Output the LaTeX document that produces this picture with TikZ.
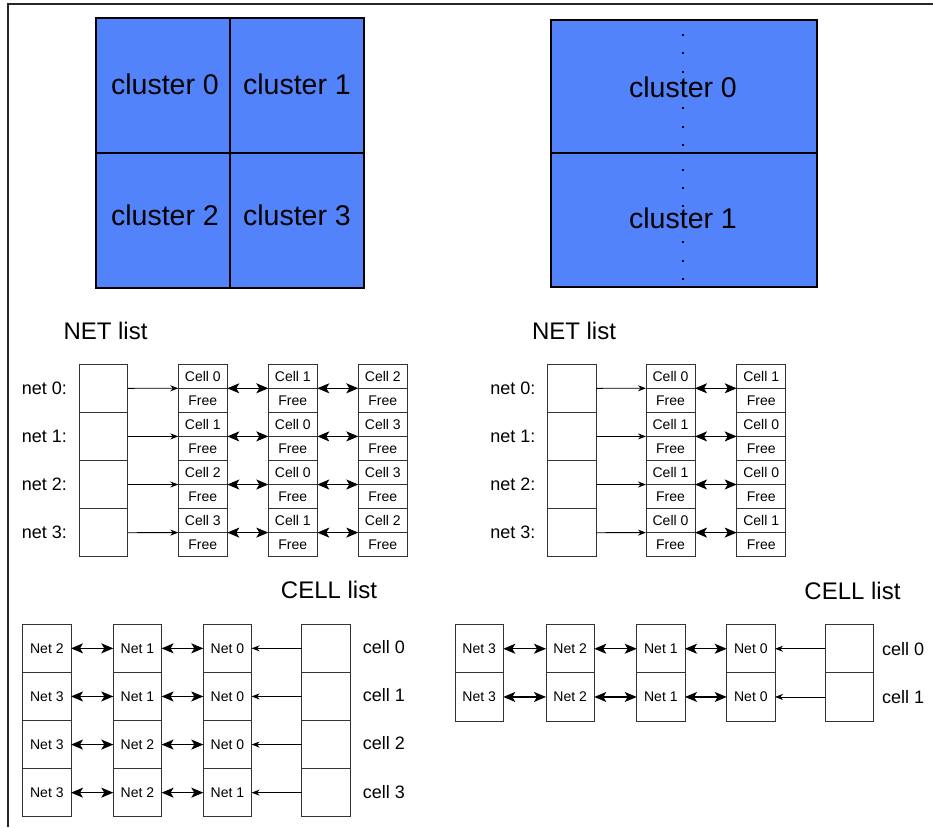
\documentclass[tikz,border=0pt]{standalone}
\usepackage{fontspec}
\setmainfont{Liberation Sans}
\usetikzlibrary{arrows.meta,calc}
\definecolor{clusterblue}{RGB}{82,131,250}
\begin{document}
\begin{tikzpicture}[x=1pt,y=-1pt,
  frame/.style={draw=black!85, line width=2pt},
  quad/.style={draw=black, line width=2pt, fill=clusterblue, inner sep=0pt, outer sep=0pt,
               anchor=north west},
  qlabel/.style={font=\fontsize{28.5}{30}\selectfont, inner sep=0pt},
  title/.style={font=\fontsize{24}{26}\selectfont, inner sep=0pt},
  rowlabel/.style={font=\fontsize{18}{20}\selectfont, inner sep=0pt},
  headbox/.style={draw=black!80, line width=1pt, minimum width=48.5pt, minimum height=48.1pt,
                  inner sep=0pt, outer sep=0pt, anchor=north west},
  halfbox/.style={draw=black!80, line width=1pt, minimum width=49pt, minimum height=24pt,
                  inner sep=0pt, outer sep=0pt, font=\fontsize{14}{16}\selectfont},
  netbox/.style={draw=black!80, line width=1pt, minimum width=48.3pt, minimum height=48.1pt,
                 inner sep=0pt, outer sep=0pt, anchor=north west, font=\fontsize{14}{16}\selectfont},
  link/.style={line width=0.8pt, -{Stealth[length=8pt,width=6pt]}},
  dlink/.style={line width=1.1pt, {Stealth[length=12pt,width=10pt,inset=3pt]}-{Stealth[length=12pt,width=10pt,inset=3pt]}},
]
\useasboundingbox (0,0) rectangle (933,827);
\fill[white] (0,0) rectangle (933,827);

% page frame (top and left rules)
\draw[frame] (8,827) -- (8,4) -- (933,4);

% ---------- four-way clustering ----------
\node[quad, minimum width=134pt, minimum height=135pt] (q0) at (96,18) {};
\node[quad, minimum width=134pt, minimum height=135pt] (q1) at (230,18) {};
\node[quad, minimum width=134pt, minimum height=135pt] (q2) at (96,153) {};
\node[quad, minimum width=134pt, minimum height=135pt] (q3) at (230,153) {};
\node[qlabel] (q0t) at (165,84) {cluster 0};
\node[qlabel] (q1t) at (297,84) {cluster 1};
\node[qlabel] (q2t) at (165,215) {cluster 2};
\node[qlabel] (q3t) at (297,215) {cluster 3};

% ---------- two-way clustering ----------
\node[quad, minimum width=266pt, minimum height=133pt] (r0) at (551,20) {};
\node[quad, minimum width=266pt, minimum height=134pt] (r1) at (551,153) {};
\node[qlabel] (r0t) at (683,87) {cluster 0};
\node[qlabel] (r1t) at (683,218) {cluster 1};
\foreach \k in {0,...,6}{
  \fill ($(683.3,35)+(0,18.33*\k)$) ++(-1,-1) rectangle ++(2,2);
  \fill ($(683.3,170)+(0,18.1*\k)$) ++(-1,-1) rectangle ++(2,2);
}

% ---------- NET list (four clusters) ----------
\node[title] (lnt) at (105.5,331) {NET list};
\foreach \r/\a/\b/\c in {0/0/1/2,1/1/0/3,2/2/0/3,3/3/1/2}{
  \pgfmathsetmacro\yt{364.3+48.1*\r}
  \node[headbox] (lnh\r) at (79.3,\yt) {};
  \node[rowlabel, anchor=east] (lnl\r) at (67,\yt+24) {net \r:};
  \node[halfbox, anchor=north west] (lna\r) at (178.3,\yt) {Cell \a};
  \node[halfbox, anchor=north] (lnaf\r) at (lna\r.south) {Free};
  \node[halfbox, anchor=north west] (lnb\r) at (268.3,\yt) {Cell \b};
  \node[halfbox, anchor=north] (lnbf\r) at (lnb\r.south) {Free};
  \node[halfbox, anchor=north west] (lnc\r) at (358.3,\yt) {Cell \c};
  \node[halfbox, anchor=north] (lncf\r) at (lnc\r.south) {Free};
  \draw[link] (lnh\r.east) -- (lna\r.south west);
  \draw[dlink] (lna\r.south east) -- (lnb\r.south west);
  \draw[dlink] (lnb\r.south east) -- (lnc\r.south west);
}

% ---------- NET list (two clusters) ----------
\node[title] (rnt) at (574,331) {NET list};
\foreach \r/\a/\b in {0/0/1,1/1/0,2/1/0,3/0/1}{
  \pgfmathsetmacro\yt{364.3+48.1*\r}
  \node[headbox] (rnh\r) at (547.7,\yt) {};
  \node[rowlabel, anchor=east] (rnl\r) at (535.5,\yt+24) {net \r:};
  \node[halfbox, anchor=north west] (rna\r) at (646,\yt) {Cell \a};
  \node[halfbox, anchor=north] (rnaf\r) at (rna\r.south) {Free};
  \node[halfbox, anchor=north west] (rnb\r) at (736.7,\yt) {Cell \b};
  \node[halfbox, anchor=north] (rnbf\r) at (rnb\r.south) {Free};
  \draw[link] (rnh\r.east) -- (rna\r.south west);
  \draw[dlink] (rna\r.south east) -- (rnb\r.south west);
}

% ---------- CELL list (four clusters) ----------
\node[title] (lct) at (329,590) {CELL list};
\foreach \r/\a/\b/\c in {0/2/1/0,1/3/1/0,2/3/2/0,3/3/2/1}{
  \pgfmathsetmacro\yt{624.3+48.1*\r}
  \node[netbox] (lca\r) at (22.7,\yt) {Net \a};
  \node[netbox] (lcb\r) at (113.3,\yt) {Net \b};
  \node[netbox] (lcc\r) at (203.3,\yt) {Net \c};
  \node[netbox] (lch\r) at (301.7,\yt) {};
  \node[rowlabel, anchor=west] (lcl\r) at (362.7,\yt+23) {cell \r};
  \draw[link] (lch\r.west) -- (lcc\r.east);
  \draw[dlink] (lca\r.east) -- (lcb\r.west);
  \draw[dlink] (lcb\r.east) -- (lcc\r.west);
}

% ---------- CELL list (two clusters) ----------
\node[title] (rct) at (852.5,591) {CELL list};
\foreach \r in {0,1}{
  \pgfmathsetmacro\yt{624.7+48.2*\r}
  \node[netbox] (rca\r) at (455,\yt) {Net 3};
  \node[netbox] (rcb\r) at (546,\yt) {Net 2};
  \node[netbox] (rcc\r) at (636.7,\yt) {Net 1};
  \node[netbox] (rcd\r) at (726.7,\yt) {Net 0};
  \node[netbox] (rch\r) at (825,\yt) {};
  \node[rowlabel, anchor=west] (rcl\r) at (882,\yt+24) {cell \r};
  \draw[link] (rch\r.west) -- (rcd\r.east);
  \draw[dlink] (rca\r.east) -- (rcb\r.west);
  \draw[dlink] (rcb\r.east) -- (rcc\r.west);
  \draw[dlink] (rcc\r.east) -- (rcd\r.west);
}
\end{tikzpicture}
\end{document}
